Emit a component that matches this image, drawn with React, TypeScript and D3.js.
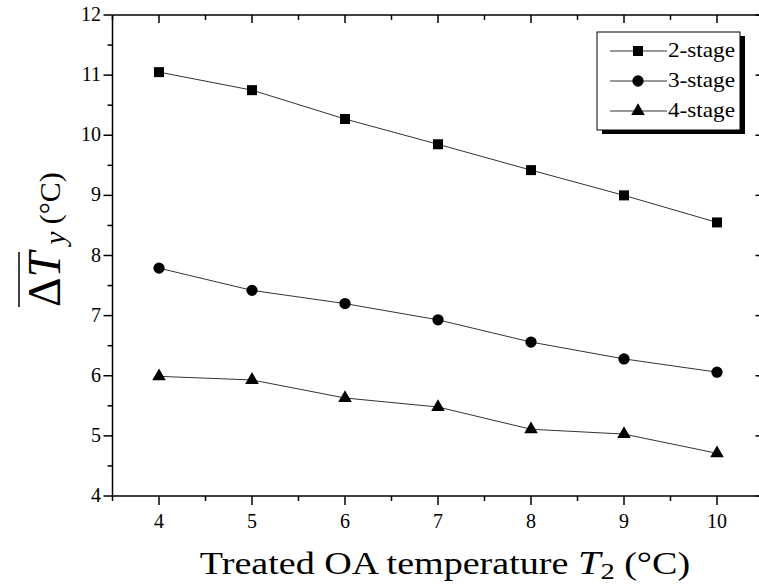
import React from 'react';
import * as d3 from 'd3';

const temps = [4, 5, 6, 7, 8, 9, 10];
const stage2 = [11.05, 10.75, 10.27, 9.85, 9.42, 9.0, 8.55];
const stage3 = [7.79, 7.42, 7.2, 6.93, 6.56, 6.28, 6.06];
const stage4 = [5.99, 5.93, 5.63, 5.48, 5.11, 5.03, 4.71];
const seriesNames = ['2-stage', '3-stage', '4-stage'];
const xTicks = [4, 5, 6, 7, 8, 9, 10];
const yTicks = [4, 5, 6, 7, 8, 9, 10, 11, 12];

const W = 759;
const H = 585;
const FONT = "'Liberation Serif', 'Times New Roman', Times, serif";

const x = d3.scaleLinear().domain([3.5, 10.5]).range([112.5, 763.5]);
const y = d3.scaleLinear().domain([4, 12]).range([496, 15]);

const xMinor = d3.range(3.5, 10.51, 0.5).filter((v) => Math.abs(v - Math.round(v)) > 0.01);
const yMinor = d3.range(4.5, 11.51, 1);

const symbols = [d3.symbolSquare, d3.symbolCircle, d3.symbolTriangle];
const sizes = [100, 100, 80];
const seriesData = [stage2, stage3, stage4];

export default function App() {
  const line = d3
    .line<number>()
    .x((_, i) => x(temps[i]))
    .y((d) => y(d));
  const x0 = x.range()[0];
  const x1 = x.range()[1];
  const yb = y.range()[0];
  const yt = y.range()[1];
  const legX = 597;
  const legY = 32;
  const legW = 143;
  const legH = 98;
  const rowY = [51, 81, 111];
  return (
    <svg
      width={W}
      height={H}
      fontFamily={FONT}
      style={{ position: 'absolute', left: 0, top: 0, display: 'block', background: '#fff' }}
    >
      <rect x={0} y={0} width={W} height={H} fill="#fff" />
      <line x1={x0} x2={x1} y1={yt} y2={yt} stroke="#000" strokeWidth={1.5} />
      <line x1={x0} x2={x1} y1={yb} y2={yb} stroke="#000" strokeWidth={1.5} />
      <line x1={x0} x2={x0} y1={yt} y2={yb} stroke="#000" strokeWidth={1.5} />
      <line x1={x1} x2={x1} y1={yt} y2={yb} stroke="#000" strokeWidth={1.5} />
      {xTicks.map((t) => (
        <line key={'bx' + t} x1={x(t)} x2={x(t)} y1={yb} y2={yb + 9} stroke="#000" strokeWidth={1.5} />
      ))}
      {xMinor.map((t) => (
        <line key={'bxm' + t} x1={x(t)} x2={x(t)} y1={yb} y2={yb + 5} stroke="#000" strokeWidth={1.5} />
      ))}
      {xTicks.map((t) => (
        <line key={'tx' + t} x1={x(t)} x2={x(t)} y1={yt} y2={yt + 8} stroke="#000" strokeWidth={1.5} />
      ))}
      {xMinor.map((t) => (
        <line key={'txm' + t} x1={x(t)} x2={x(t)} y1={yt} y2={yt + 5} stroke="#000" strokeWidth={1.5} />
      ))}
      {yTicks.map((t) => (
        <line key={'ly' + t} x1={x0 - 9} x2={x0} y1={y(t)} y2={y(t)} stroke="#000" strokeWidth={1.5} />
      ))}
      {yMinor.map((t) => (
        <line key={'lym' + t} x1={x0 - 5} x2={x0} y1={y(t)} y2={y(t)} stroke="#000" strokeWidth={1.5} />
      ))}
      {yTicks.map((t) => (
        <line key={'ry' + t} x1={x1 - 8} x2={x1} y1={y(t)} y2={y(t)} stroke="#000" strokeWidth={1.5} />
      ))}
      {xTicks.map((t) => (
        <text key={'xl' + t} x={x(t)} y={528} textAnchor="middle" fontSize={20} fill="#000">
          {t}
        </text>
      ))}
      {yTicks.map((t) => (
        <text key={'yl' + t} x={101} y={y(t) + 6} textAnchor="end" fontSize={20} fill="#000">
          {t}
        </text>
      ))}
      {seriesData.map((s, k) => (
        <g key={'s' + k}>
          <path d={line(s) || ''} fill="none" stroke="#333" strokeWidth={1} />
          {s.map((v, i) => (
            <path
              key={i}
              d={d3.symbol(symbols[k], sizes[k])() || ''}
              transform={`translate(${x(temps[i])},${y(v)})`}
              fill="#000"
            />
          ))}
        </g>
      ))}
      <rect x={legX + 5} y={legY + 4} width={legW} height={legH} fill="#000" />
      <rect x={legX} y={legY} width={legW} height={legH} fill="#fff" stroke="#000" strokeWidth={1} />
      {seriesNames.map((n, k) => (
        <g key={'lg' + k}>
          <line x1={legX + 13} x2={legX + 70} y1={rowY[k]} y2={rowY[k]} stroke="#333" strokeWidth={1} />
          <path
            d={d3.symbol(symbols[k], sizes[k])() || ''}
            transform={`translate(${legX + 41},${rowY[k]})`}
            fill="#000"
          />
          <text
            x={legX + 71}
            y={rowY[k] + 6}
            fontSize={21}
            fill="#000"
            textLength={67}
            lengthAdjust="spacingAndGlyphs"
          >
            {n}
          </text>
        </g>
      ))}
      <g transform="translate(445,574) scale(1.19,1)">
        <text x={0} y={0} textAnchor="middle" fontSize={32} fill="#000">
          <tspan>Treated OA temperature </tspan>
          <tspan fontStyle="italic" fontSize={34}>T</tspan>
          <tspan fontSize={24} dy={5}>2</tspan>
          <tspan dy={-5}> (°C)</tspan>
        </text>
      </g>
      <g transform="translate(60,307) rotate(-90)">
        <text x={0} y={0} fontSize={46} fill="#000">
          <tspan>Δ</tspan>
          <tspan fontStyle="italic">T</tspan>
          <tspan fontStyle="italic" fontSize={29} dy={5}> y</tspan>
          <tspan fontSize={30} dy={-5}> (°C)</tspan>
        </text>
        <line x1={0} x2={55} y1={-41} y2={-41} stroke="#000" strokeWidth={1.5} />
      </g>
    </svg>
  );
}
